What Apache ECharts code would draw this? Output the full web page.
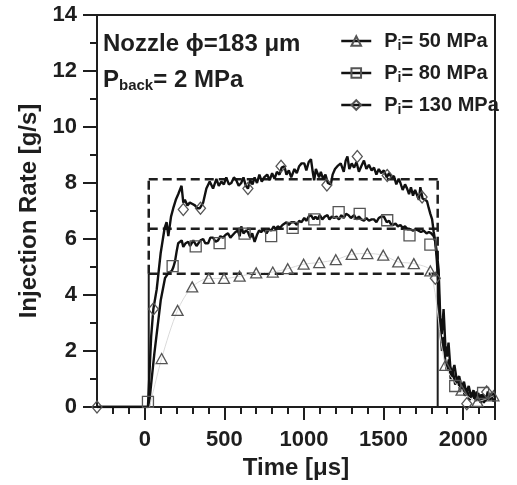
<!DOCTYPE html>
<html>
<head>
<meta charset="utf-8">
<script src="https://cdn.jsdelivr.net/npm/echarts@6/dist/echarts.min.js"></script>
<style>html,body{margin:0;padding:0;background:#fff}#c{width:517px;height:485px}</style>
</head>
<body>
<div id="c"></div>
<script>
// ---- axis ticks ----
const xMajorTicks = [0, 500, 1000, 1500, 2000];
const yTicks = [0, 2, 4, 6, 8, 10, 12, 14];

// ---- legend / series names ----
const seriesNames = ['P50', 'P80', 'P130'];
const legendPressures = ['50', '80', '130'];

// ---- P = 50 MPa : open triangles (grey thin line through them) ----
const tri50T = [30, 106, 206, 298, 402, 498, 596, 700, 804, 898, 998, 1096, 1200, 1300, 1398, 1498, 1592, 1690, 1794, 1888, 1990, 2090, 2190];
const tri50V = [0, 1.73, 3.45, 4.29, 4.59, 4.59, 4.67, 4.79, 4.82, 4.94, 5.10, 5.16, 5.26, 5.45, 5.48, 5.42, 5.18, 5.12, 4.86, 1.49, 0.6, 0.2, 0.4];

// ---- P = 80 MPa : open squares ----
const sq80T = [20, 175, 320, 470, 627, 794, 929, 1065, 1218, 1350, 1523, 1663, 1794, 1950, 2125];
const sq80V = [0.18, 5.03, 5.74, 5.85, 6.19, 6.10, 6.40, 6.70, 6.96, 6.90, 6.67, 6.13, 5.80, 0.75, 0.5];

// ---- P = 130 MPa : open diamonds ----
const di130T = [-300, 54, 242, 350, 648, 856, 1144, 1335, 1523, 1742, 1825, 2023, 2148];
const di130V = [0, 3.5, 7.05, 7.1, 7.8, 8.6, 7.93, 8.95, 8.27, 7.5, 4.6, 0.12, 0.54];

// ---- measured traces (thick black) ----
const trace80T = [-300,0,25,60,100,127,150,169,180,190,200,210,221,232,242,257,273,285,294,305,315,325,335,350,367,380,398,412,429,445,460,475,492,508,523,538,554,570,585,596,606,620,635,648,662,675,690,705,718,731,750,765,780,794,810,822,835,850,865,877,890,905,920,940,955,970,985,1002,1015,1030,1044,1060,1072,1085,1100,1115,1130,1148,1160,1175,1190,1205,1220,1235,1250,1265,1280,1295,1315,1330,1345,1360,1377,1392,1408,1425,1440,1455,1470,1485,1502,1520,1535,1544,1560,1575,1590,1606,1620,1635,1650,1669,1685,1700,1720,1735,1752,1770,1785,1800,1815,1825,1835,1846,1856,1867,1877,1888,1898,1910,1922,1935,1950,1965,1981,1995,2010,2025,2040,2055,2070,2085,2100,2115,2130,2145,2160,2175,2190,2200];
const trace80V = [0,0,0,1.9,3.8,4.6,4.8,4.85,5.0,5.2,5.55,5.85,5.85,5.95,5.72,5.85,5.9,5.75,5.8,5.95,5.9,5.75,5.8,5.95,6.0,5.85,5.85,6.05,6.05,5.9,5.95,6.1,6.05,6.15,6.2,6.05,6.15,6.25,6.3,6.1,6.45,6.2,6.3,6.25,6.05,6.2,5.9,6.15,6.3,6.25,6.35,6.2,6.35,6.3,6.45,6.35,6.45,6.4,6.5,6.45,6.6,6.5,6.6,6.6,6.5,6.65,6.6,6.75,6.65,6.8,6.85,6.7,6.8,6.7,6.85,6.7,6.8,6.85,6.7,6.8,6.75,6.8,6.7,6.85,6.75,6.9,6.85,6.75,6.85,6.7,6.8,6.7,6.65,6.75,6.65,6.7,6.7,6.6,6.75,6.8,6.8,6.6,6.65,6.55,6.5,6.55,6.45,6.5,6.4,6.45,6.35,6.35,6.3,6.35,6.3,6.25,6.3,6.2,6.25,6.2,6.1,5.9,5.2,4.2,2.8,2.0,2.5,1.6,1.3,1.7,1.0,1.3,0.8,1.0,0.6,0.85,0.4,0.6,0.25,0.5,0.3,0.55,0.2,0.45,0.15,0.4,0.25,0.45,0.2,0.3];

const trace130T = [-300,0,20,40,54,75,100,125,137,148,165,179,195,210,231,242,252,268,283,300,315,330,346,367,387,408,429,450,465,481,497,512,528,544,560,575,590,606,620,635,648,662,677,690,705,720,735,750,769,785,800,815,830,846,860,877,890,905,920,940,955,970,985,1002,1015,1030,1044,1055,1064,1075,1085,1095,1106,1120,1135,1150,1169,1180,1195,1210,1231,1250,1262,1273,1285,1300,1315,1330,1345,1360,1377,1392,1408,1425,1440,1455,1470,1485,1502,1520,1535,1550,1565,1580,1595,1606,1620,1635,1648,1660,1672,1685,1698,1710,1722,1731,1745,1760,1773,1784,1794,1805,1815,1825,1835,1846,1856,1866,1877,1888,1898,1908,1919,1930,1945,1960,1975,1990,2005,2020,2035,2050,2065,2080,2095,2110,2125,2140,2155,2170,2185,2200];
const trace130V = [0,0,0,2.5,3.5,4.2,5.5,6.4,6.6,6.1,6.8,7.1,7.4,7.6,7.9,7.3,7.4,7.2,7.3,7.25,7.2,7.1,7.1,7.3,7.8,8.05,7.8,8.15,7.9,8.05,7.95,8.2,7.95,8.0,8.2,8.1,7.9,8.0,8.2,7.9,7.8,8.1,7.95,8.2,8.0,8.3,8.05,8.2,8.3,8.1,8.35,8.15,8.4,8.3,8.55,8.6,8.3,8.45,8.2,8.5,8.35,8.6,8.7,8.7,8.45,8.75,8.85,8.4,8.1,8.5,8.45,8.2,8.4,8.15,8.3,8.0,7.95,8.3,8.5,8.6,8.7,8.4,8.8,8.95,8.5,8.7,8.55,8.75,8.4,8.6,8.8,8.5,8.65,8.45,8.55,8.3,8.5,8.35,8.45,8.2,8.35,8.2,8.25,7.95,8.15,8.0,7.75,7.95,7.8,7.6,7.85,7.55,7.75,7.7,7.4,7.85,7.45,7.4,7.35,7.1,6.9,6.7,6.25,5.9,5.5,4.9,3.2,2.6,3.5,2.2,1.8,2.3,1.45,1.2,1.5,0.95,1.1,0.7,0.9,0.5,0.75,0.35,0.6,0.2,0.5,0.15,0.45,0.2,0.55,0.25,0.5,0.35];

// ---- reference box (dashed) ----
const boxLevels = [4.76, 6.37, 8.13];
const boxStart = 25;
const boxEnd = 1840;

// ---------------------------------------------------------------
const FONT = '"Liberation Sans", Arial, sans-serif';
const INK = '#1e1e1e';
const zip = (a, b) => a.map((v, i) => [v, b[i]]);
const xMinorTicks = [];
for (let t = -200; t <= 2100; t += 100) if (t % 500 !== 0) xMinorTicks.push(t);

const markerStyle = {color: 'rgba(255,255,255,0)', borderColor: '#555', borderWidth: 1.3};
const rich = {
  pf: {fontSize: 20, fontWeight: 'bold', fontFamily: FONT, color: INK, lineHeight: 24, padding: [0, 0, 0, 8]},
  p: {fontSize: 20, fontWeight: 'bold', fontFamily: FONT, color: INK, lineHeight: 24},
  s: {fontSize: 14, fontWeight: 'bold', fontFamily: FONT, color: INK, lineHeight: 6, verticalAlign: 'bottom'}
};

const series = [];
// box
boxLevels.forEach(lv => series.push({type: 'line', data: [[boxStart, lv], [boxEnd, lv]], symbol: 'none', silent: true,
  lineStyle: {color: INK, width: 2.5, type: [9, 5]}, z: 3}));
[boxStart, boxEnd].forEach(x => {
  series.push({type: 'line', data: [[x, boxLevels[0]], [x, boxLevels[2]]], symbol: 'none', silent: true,
    lineStyle: {color: INK, width: 2.5, type: [9, 5]}, z: 3});
  series.push({type: 'line', data: [[x, 0], [x, boxLevels[0]]], symbol: 'none', silent: true,
    lineStyle: {color: INK, width: 2}, z: 3});
});
// traces
series.push({type: 'line', name: 'tr80', data: zip(trace80T, trace80V), symbol: 'none', lineStyle: {color: '#111', width: 2.4}, z: 4});
series.push({type: 'line', name: 'tr130', data: zip(trace130T, trace130V), symbol: 'none', lineStyle: {color: '#111', width: 2.4}, z: 4});
// markers
const tri = zip(tri50T, tri50V).map((p, i) => i === 0 ? {value: p, symbol: 'none'} : p);
series.push({type: 'line', name: seriesNames[0], data: tri, smooth: 0.3, symbol: 'triangle', symbolSize: [11, 10],
  lineStyle: {color: '#dadada', width: 1}, itemStyle: markerStyle, z: 5});
series.push({type: 'line', name: seriesNames[1], data: zip(sq80T, sq80V), symbol: 'rect', symbolSize: 11,
  lineStyle: {width: 0, opacity: 0}, itemStyle: markerStyle, z: 5});
series.push({type: 'line', name: seriesNames[2], data: zip(di130T, di130V), symbol: 'diamond', symbolSize: [10, 12],
  lineStyle: {width: 0, opacity: 0}, itemStyle: markerStyle, z: 5});

const chart = echarts.init(document.getElementById('c'), null, {renderer: 'canvas'});
chart.setOption({
  animation: false,
  backgroundColor: '#fff',
  grid: {left: 97, right: 22, top: 15, bottom: 78, show: true, borderColor: INK, borderWidth: 2, backgroundColor: 'rgba(0,0,0,0)'},
  xAxis: [{
    type: 'value', min: -300, max: 2200, position: 'bottom',
    name: 'Time [μs]', nameLocation: 'middle', nameGap: 47,
    nameTextStyle: {fontFamily: FONT, fontSize: 24, fontWeight: 'bold', color: INK},
    axisLine: {show: true, onZero: false, lineStyle: {color: INK, width: 2}},
    axisTick: {show: true, customValues: xMajorTicks.concat([2200]), length: 13, lineStyle: {color: INK, width: 2}},
    axisLabel: {show: true, customValues: xMajorTicks, margin: 22, fontFamily: FONT, fontSize: 22, fontWeight: 'bold', color: INK,
      formatter: v => String(v)},
    splitLine: {show: false}
  }, {
    type: 'value', min: -300, max: 2200, position: 'bottom',
    axisLine: {show: false, onZero: false},
    axisTick: {show: true, customValues: xMinorTicks, length: 7, lineStyle: {color: INK, width: 2}},
    axisLabel: {show: false},
    splitLine: {show: false}
  }],
  yAxis: {
    type: 'value', min: 0, max: 14, interval: 2,
    name: 'Injection Rate [g/s]', nameLocation: 'middle', nameGap: 56,
    nameTextStyle: {fontFamily: FONT, fontSize: 24, fontWeight: 'bold', color: INK},
    axisLine: {show: true, onZero: false, lineStyle: {color: INK, width: 2}},
    axisTick: {show: true, length: 14, lineStyle: {color: INK, width: 2}},
    minorTick: {show: true, splitNumber: 2, length: 7, lineStyle: {color: INK, width: 2}},
    axisLabel: {margin: 20, fontFamily: FONT, fontSize: 22, fontWeight: 'bold', color: INK,
      formatter: v => yTicks.includes(v) ? String(v) : ''},
    splitLine: {show: false}
  },
  legend: {
    orient: 'vertical', left: 340, top: 31, padding: 0, itemGap: 10,
    itemWidth: 30, itemHeight: 12,
    data: seriesNames.map(n => ({name: n, lineStyle: {color: '#111', width: 2.5, opacity: 1, type: 'solid'}})),
    formatter: n => '{pf|P}{s|i}{p|= ' + legendPressures[seriesNames.indexOf(n)] + ' MPa}',
    textStyle: {rich: rich},
    selectedMode: false
  },
  graphic: [
    {type: 'text', x: 103, y: 44, style: {text: 'Nozzle ϕ=183 μm', font: 'bold 24px ' + FONT, fill: INK, verticalAlign: 'middle'}},
    {type: 'text', x: 103, y: 80, style: {text: '{p|P}{s|back}{p|= 2 MPa}', verticalAlign: 'middle',
      rich: {
        p: {fontSize: 24, fontWeight: 'bold', fontFamily: FONT, fill: INK, lineHeight: 26},
        s: {fontSize: 15, fontWeight: 'bold', fontFamily: FONT, fill: INK, lineHeight: 18, verticalAlign: 'bottom'}
      }}}
  ],
  series: series
});
</script>
</body>
</html>
